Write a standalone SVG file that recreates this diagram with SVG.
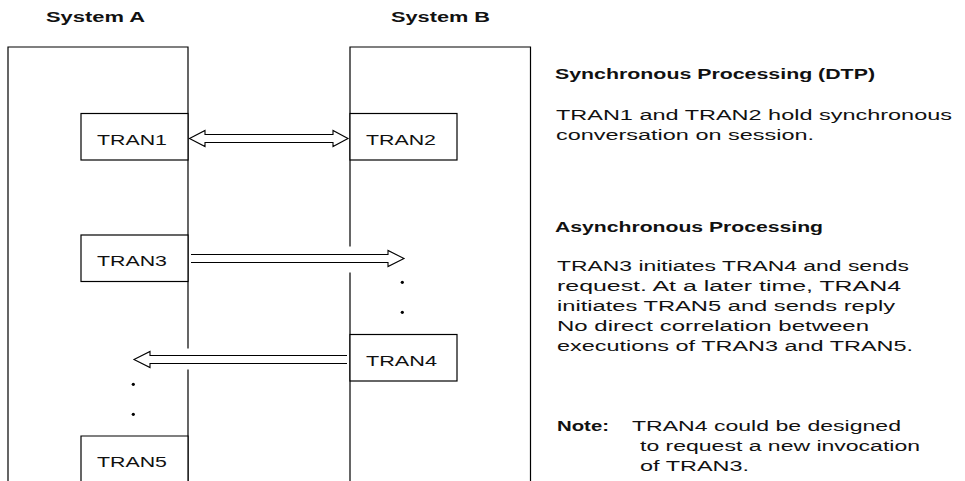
<svg xmlns="http://www.w3.org/2000/svg" width="965" height="481" viewBox="0 0 965 481">
<style>
.frame{fill:none;stroke:#000;stroke-width:1.2}
.box{fill:#fff;stroke:#000;stroke-width:1.2}
.arrow{fill:#fff;stroke:#000;stroke-width:1.1;stroke-linejoin:miter}
.lbl{font-family:"Liberation Sans",Arial,sans-serif;font-size:15.5px;fill:#111}
.title{font-family:"Liberation Sans",Arial,sans-serif;font-size:14.5px;font-weight:bold;fill:#111}
.body{font-family:"Liberation Sans",Arial,sans-serif;font-size:14px;fill:#111}
.head{font-family:"Liberation Sans",Arial,sans-serif;font-size:14px;font-weight:bold;fill:#111}
.dot{fill:#000}
</style>
<rect width="965" height="481" fill="#fff"/>
<g id="systemA">
<text class="title" x="46" y="22" textLength="99" lengthAdjust="spacingAndGlyphs">System A</text>
<path class="frame" d="M8,481 V47 H188 V348.5 M188,369.5 V481"/>
</g>
<g id="systemB">
<text class="title" x="391" y="22" textLength="99" lengthAdjust="spacingAndGlyphs">System B</text>
<path class="frame" d="M350,246.5 V47 H530.5 V481 M350,272.5 V481"/>
</g>
<g id="tran1">
<rect class="box" x="81" y="113.5" width="107" height="46.5"/>
<text class="lbl" x="97" y="144.5" textLength="70" lengthAdjust="spacingAndGlyphs">TRAN1</text>
</g>
<g id="tran2">
<rect class="box" x="350" y="113.5" width="107" height="46.5"/>
<text class="lbl" x="366" y="144.5" textLength="70" lengthAdjust="spacingAndGlyphs">TRAN2</text>
</g>
<g id="tran3">
<rect class="box" x="81" y="235" width="107" height="46.5"/>
<text class="lbl" x="97" y="266" textLength="70" lengthAdjust="spacingAndGlyphs">TRAN3</text>
</g>
<g id="tran4">
<rect class="box" x="350" y="334.5" width="107" height="46.5"/>
<text class="lbl" x="366" y="365.5" textLength="71" lengthAdjust="spacingAndGlyphs">TRAN4</text>
</g>
<g id="tran5">
<path class="box" d="M81,482 V436 H188 V482"/>
<text class="lbl" x="97" y="467" textLength="70" lengthAdjust="spacingAndGlyphs">TRAN5</text>
</g>
<g id="connectors">
<path class="arrow" d="M189.5,138.5 L205,130.5 V134.5 H333 V130.5 L348,138.5 L333,146.5 V142.5 H205 V146.5 Z"/>
<path class="arrow" d="M191,254.5 H388 V250.5 L404,258.5 L388,266.5 V262.5 H191"/>
<path class="arrow" d="M347,355.5 H150 V351.5 L134,359.5 L150,367.5 V363.5 H347"/>
<circle class="dot" cx="402.3" cy="282.3" r="1.6"/>
<circle class="dot" cx="402.3" cy="312.3" r="1.6"/>
<circle class="dot" cx="133.3" cy="384.3" r="1.6"/>
<circle class="dot" cx="133.3" cy="414.3" r="1.6"/>
</g>
<g id="notes">
<text class="head" x="555" y="79" textLength="320" lengthAdjust="spacingAndGlyphs">Synchronous Processing (DTP)</text>
<text class="body" x="556" y="120" textLength="396" lengthAdjust="spacingAndGlyphs">TRAN1 and TRAN2 hold synchronous</text>
<text class="body" x="556" y="140" textLength="258" lengthAdjust="spacingAndGlyphs">conversation on session.</text>
<text class="head" x="555" y="231.5" textLength="268" lengthAdjust="spacingAndGlyphs">Asynchronous Processing</text>
<text class="body" x="557" y="270.5" textLength="352" lengthAdjust="spacingAndGlyphs">TRAN3 initiates TRAN4 and sends</text>
<text class="body" x="557" y="290.5" textLength="344" lengthAdjust="spacingAndGlyphs">request.  At a later time, TRAN4</text>
<text class="body" x="557" y="310.5" textLength="338" lengthAdjust="spacingAndGlyphs">initiates TRAN5 and sends reply</text>
<text class="body" x="557" y="330.5" textLength="312" lengthAdjust="spacingAndGlyphs">No direct correlation between</text>
<text class="body" x="557" y="350.5" textLength="356" lengthAdjust="spacingAndGlyphs">executions of TRAN3 and TRAN5.</text>
<text class="head" x="557" y="431" textLength="52" lengthAdjust="spacingAndGlyphs">Note:</text>
<text class="body" x="632" y="431" textLength="269" lengthAdjust="spacingAndGlyphs">TRAN4 could be designed</text>
<text class="body" x="640" y="451" textLength="280" lengthAdjust="spacingAndGlyphs">to request a new invocation</text>
<text class="body" x="640" y="470.5" textLength="109" lengthAdjust="spacingAndGlyphs">of TRAN3.</text>
</g>
</svg>
